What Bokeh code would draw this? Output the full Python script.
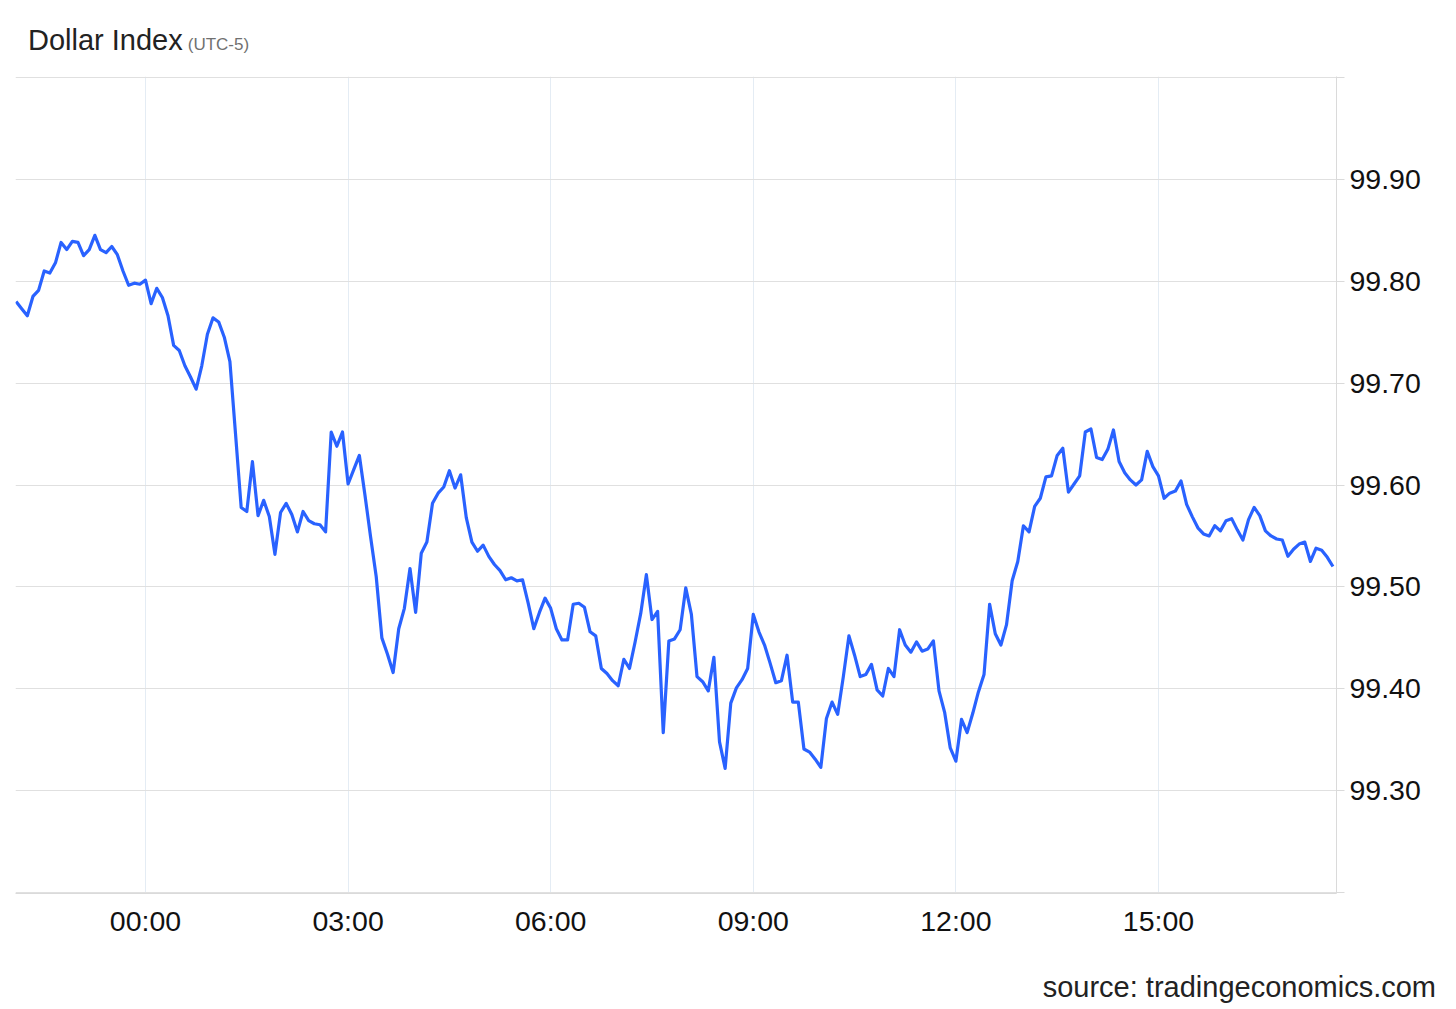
import pandas as pd
from bokeh.plotting import figure
from bokeh.layouts import column
from bokeh.models import Range1d, FixedTicker, DatetimeTickFormatter, NumeralTickFormatter, Div
from bokeh.embed import file_html
from bokeh.resources import INLINE

# ---- data -------------------------------------------------------------
TITLE = "Dollar Index"
TIMEZONE = "(UTC-5)"
SOURCE = "source: tradingeconomics.com"

SESSION_DAY = "2025-06-05"          # day of the 00:00 .. 17:35 quotes
FIRST_QUOTE = "2025-06-04 22:05"    # first 5-minute quote (previous evening)
QUOTE_STEP = "5min"

dxy = [
    99.780, 99.773, 99.766, 99.785, 99.791, 99.810, 99.808, 99.818, 99.838, 99.831,
    99.839, 99.838, 99.825, 99.831, 99.845, 99.831, 99.828, 99.834, 99.826, 99.810,
    99.796, 99.798, 99.797, 99.801, 99.778, 99.793, 99.784, 99.766, 99.737, 99.732,
    99.717, 99.706, 99.694, 99.717, 99.748, 99.764, 99.760, 99.745, 99.721, 99.650,
    99.578, 99.574, 99.623, 99.570, 99.585, 99.569, 99.532, 99.573, 99.582, 99.571,
    99.554, 99.574, 99.565, 99.562, 99.561, 99.554, 99.652, 99.638, 99.652, 99.601,
    99.615, 99.629, 99.590, 99.549, 99.510, 99.450, 99.434, 99.416, 99.459, 99.479,
    99.518, 99.475, 99.533, 99.544, 99.582, 99.592, 99.598, 99.614, 99.597, 99.610,
    99.568, 99.544, 99.535, 99.541, 99.530, 99.522, 99.516, 99.507, 99.509, 99.506,
    99.507, 99.484, 99.459, 99.475, 99.489, 99.479, 99.459, 99.448, 99.448, 99.483,
    99.484, 99.480, 99.456, 99.452, 99.420, 99.415, 99.408, 99.403, 99.429, 99.420,
    99.446, 99.474, 99.512, 99.468, 99.476, 99.357, 99.447, 99.449, 99.458, 99.499,
    99.473, 99.412, 99.407, 99.398, 99.431, 99.348, 99.322, 99.386, 99.401, 99.409,
    99.420, 99.473, 99.456, 99.443, 99.425, 99.406, 99.408, 99.433, 99.387, 99.387,
    99.341, 99.338, 99.331, 99.323, 99.371, 99.387, 99.375, 99.412, 99.452, 99.433,
    99.412, 99.414, 99.424, 99.399, 99.393, 99.420, 99.412, 99.458, 99.443, 99.436,
    99.446, 99.437, 99.439, 99.447, 99.398, 99.377, 99.342, 99.329, 99.370, 99.357,
    99.376, 99.397, 99.414, 99.483, 99.454, 99.443, 99.463, 99.506, 99.525, 99.560,
    99.554, 99.579, 99.587, 99.608, 99.609, 99.629, 99.636, 99.593, 99.601, 99.609,
    99.652, 99.655, 99.627, 99.625, 99.635, 99.654, 99.623, 99.612, 99.605, 99.600,
    99.605, 99.633, 99.618, 99.609, 99.587, 99.592, 99.594, 99.604, 99.581, 99.569,
    99.558, 99.552, 99.550, 99.560, 99.555, 99.565, 99.567, 99.556, 99.546, 99.566,
    99.578, 99.570, 99.555, 99.550, 99.547, 99.546, 99.530, 99.537, 99.542, 99.544,
    99.525, 99.538, 99.536, 99.529, 99.520,
]

x_tick_labels = ["00:00", "03:00", "06:00", "09:00", "12:00", "15:00"]
y_ticks = [99.2, 99.3, 99.4, 99.5, 99.6, 99.7, 99.8, 99.9, 100.0]
y_unlabelled = [99.2, 100.0]

X_START = "2025-06-04 22:04:30"
X_END = "2025-06-05 17:38:10"
Y_START, Y_END = 99.1992, 100.0008

# ---- figure -----------------------------------------------------------
times = pd.date_range(FIRST_QUOTE, periods=len(dxy), freq=QUOTE_STEP)

FONT = "Liberation Sans"
CSS_FONT = "'Liberation Sans', Arial, sans-serif"

header = Div(
    text=(f'<div style="padding:26px 0 0 28px; line-height:1; white-space:nowrap; font-family:{CSS_FONT}">'
          f'<span style="font-size:29px; color:#222222">{TITLE}</span>'
          f'<span style="font-size:17px; color:#707070; margin-left:5px">{TIMEZONE}</span></div>'),
    width=1456, height=60, margin=0,
)

p = figure(
    title=None,
    x_axis_type="datetime",
    y_axis_location="right",
    frame_width=1321, frame_height=817,
    min_border_left=15, min_border_right=120,
    min_border_top=16, min_border_bottom=45,
    x_range=Range1d(pd.Timestamp(X_START), pd.Timestamp(X_END)),
    y_range=Range1d(Y_START, Y_END),
    output_backend="svg", toolbar_location=None,
    background_fill_color="white", border_fill_color="white",
    margin=0,
)
p.outline_line_color = None

p.line(times, dxy, line_width=3.2, line_color="#2962ff", line_join="round")

x_tick_ms = [pd.Timestamp(f"{SESSION_DAY} {t}").timestamp() * 1000 for t in x_tick_labels]

# x axis
xa = p.xaxis[0]
xa.ticker = FixedTicker(ticks=x_tick_ms)
xa.formatter = DatetimeTickFormatter(hours="%H:%M", hourmin="%H:%M", days="%H:%M",
                                     minutes="%H:%M", minsec="%H:%M")
xa.axis_line_color = "#dadada"
xa.major_tick_line_color = None
xa.minor_tick_line_color = None
xa.major_label_text_font = FONT
xa.major_label_text_font_size = "28.5px"
xa.major_label_text_color = "#111111"
xa.major_label_standoff = 5

# y axis (right)
ya = p.yaxis[0]
ya.ticker = FixedTicker(ticks=y_ticks)
ya.formatter = NumeralTickFormatter(format="0.00")
ya.major_label_overrides = {v: "" for v in y_unlabelled}
ya.axis_line_color = "#dadada"
ya.major_tick_line_color = "#dadada"
ya.major_tick_out = 8
ya.major_tick_in = 0
ya.minor_tick_line_color = None
ya.major_label_text_font = FONT
ya.major_label_text_font_size = "28.5px"
ya.major_label_text_color = "#111111"
ya.major_label_standoff = 5

# grids
p.xgrid.ticker = FixedTicker(ticks=x_tick_ms)
p.xgrid.grid_line_color = "#e4ecf4"
p.ygrid.ticker = FixedTicker(ticks=y_ticks)
p.ygrid.grid_line_color = "#e0e0e0"

footer = Div(
    text=(f'<div style="width:1436px; padding-top:34px; line-height:1; text-align:right; white-space:nowrap; '
          f'font-family:{CSS_FONT}; font-size:29px; color:#222222">{SOURCE}</div>'),
    width=1456, height=70, margin=0,
)

layout = column(header, p, footer, spacing=0)
open("out.html", "w").write(file_html(layout, INLINE))
